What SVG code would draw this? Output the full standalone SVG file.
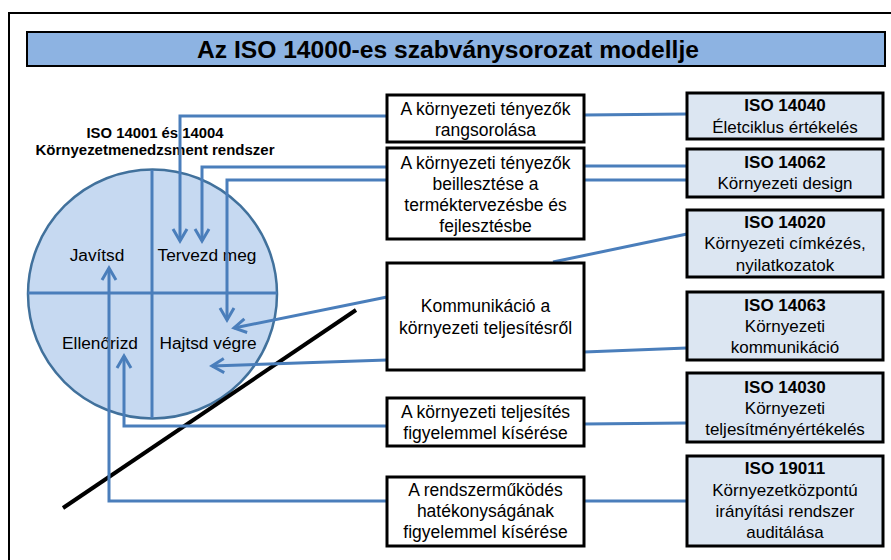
<svg xmlns="http://www.w3.org/2000/svg" width="891" height="560" viewBox="0 0 891 560">
<defs>
<style>
text{font-family:"Liberation Sans",Arial,sans-serif;fill:#000;}
.t{font-size:17.5px;text-anchor:middle;}
.r{font-size:17px;text-anchor:middle;}
.b{font-weight:bold;}
.c{font-size:17.3px;text-anchor:middle;}
.mid{fill:#fff;stroke:#000;stroke-width:3;}
.iso{fill:#dce6f2;stroke:#000;stroke-width:3;}
.con{fill:none;stroke:#4a7ebb;stroke-width:3;}
.arr{fill:none;stroke:#4a7ebb;stroke-width:3;marker-end:url(#ah);}
</style>
<marker id="ah" markerUnits="userSpaceOnUse" markerWidth="20" markerHeight="20" viewBox="-14 -10 16 20" refX="0" refY="0" orient="auto">
<path d="M-12,-7 L0,0 L-12,7" fill="none" stroke="#4a7ebb" stroke-width="3"/>
</marker>
</defs>
<rect x="9" y="13" width="900" height="560" fill="#fff" stroke="#000" stroke-width="2"/>
<g id="title">
<rect x="27" y="32" width="858" height="34" fill="#8db3e2" stroke="#000" stroke-width="2"/>
<text x="448" y="58" font-size="23" font-weight="bold" text-anchor="middle" textLength="502" lengthAdjust="spacingAndGlyphs">Az ISO 14000-es szabványsorozat modellje</text>
</g>
<g id="cycle">
<text x="155" y="138" font-size="14.5" class="b" text-anchor="middle" textLength="137" lengthAdjust="spacingAndGlyphs">ISO 14001 és 14004</text>
<text x="155" y="155" font-size="14.5" class="b" text-anchor="middle" textLength="239" lengthAdjust="spacingAndGlyphs">Környezetmenedzsment rendszer</text>
<circle cx="152.5" cy="294" r="124.5" fill="#c6d9f1" stroke="#41719c" stroke-width="2.5"/>
<line x1="28" y1="293" x2="277" y2="293" stroke="#4a7ebb" stroke-width="3"/>
<line x1="152" y1="170" x2="152" y2="418" stroke="#4a7ebb" stroke-width="3"/>
<text class="c" x="97" y="261">Javítsd</text>
<text class="c" x="207" y="261">Tervezd meg</text>
<text class="c" x="100" y="349">Ellenőrizd</text>
<text class="c" x="208" y="349">Hajtsd végre</text>
</g>
<line x1="63" y1="508" x2="356" y2="310" stroke="#000" stroke-width="4"/>
<g id="connectors">
<path class="arr" d="M387,116 H180 V241"/>
<path class="arr" d="M387,167 H202 V241"/>
<path class="arr" d="M387,180 H227 V320"/>
<path class="arr" d="M387,297 L234,328"/>
<path class="arr" d="M387,360 L212,366"/>
<path class="arr" d="M387,426 H124 V356"/>
<path class="arr" d="M387,501 H109 V268"/>
<path class="con" d="M584,115 L687,114"/>
<path class="con" d="M584,166 H687"/>
<path class="con" d="M584,180 H687"/>
<path class="con" d="M687,234 L553,262"/>
<path class="con" d="M584,352 L687,348"/>
<path class="con" d="M584,424 L687,423"/>
<path class="con" d="M584,501 H687"/>
</g>
<g id="m1"><rect class="mid" x="387" y="95" width="197" height="47"/>
<text class="t" x="485.5" y="115">A környezeti tényezők</text><text class="t" x="485.5" y="136">rangsorolása</text></g>
<g id="m2"><rect class="mid" x="387" y="148" width="197" height="91"/>
<text class="t" x="485.5" y="169">A környezeti tényezők</text><text class="t" x="485.5" y="190">beillesztése a</text><text class="t" x="485.5" y="211">terméktervezésbe és</text><text class="t" x="485.5" y="232">fejlesztésbe</text></g>
<g id="m3"><rect class="mid" x="387" y="263" width="197" height="107"/>
<text class="t" x="485.5" y="312">Kommunikáció a</text><text class="t" x="485.5" y="334">környezeti teljesítésről</text></g>
<g id="m4"><rect class="mid" x="387" y="398" width="197" height="48"/>
<text class="t" x="485.5" y="418">A környezeti teljesítés</text><text class="t" x="485.5" y="439">figyelemmel kísérése</text></g>
<g id="m5"><rect class="mid" x="387" y="477" width="197" height="69"/>
<text class="t" x="485.5" y="496">A rendszerműködés</text><text class="t" x="485.5" y="517">hatékonyságának</text><text class="t" x="485.5" y="538">figyelemmel kísérése</text></g>
<g id="r1"><rect class="iso" x="687" y="93" width="196" height="46"/>
<text class="r b" x="785" y="111">ISO 14040</text><text class="r" x="785" y="133">Életciklus értékelés</text></g>
<g id="r2"><rect class="iso" x="687" y="149" width="196" height="48"/>
<text class="r b" x="785" y="168">ISO 14062</text><text class="r" x="785" y="189">Környezeti design</text></g>
<g id="r3"><rect class="iso" x="687" y="210" width="196" height="67"/>
<text class="r b" x="785" y="228">ISO 14020</text><text class="r" x="785" y="249">Környezeti címkézés,</text><text class="r" x="785" y="271">nyilatkozatok</text></g>
<g id="r4"><rect class="iso" x="687" y="292" width="196" height="68"/>
<text class="r b" x="785" y="311">ISO 14063</text><text class="r" x="785" y="332">Környezeti</text><text class="r" x="785" y="353">kommunikáció</text></g>
<g id="r5"><rect class="iso" x="687" y="373" width="196" height="69"/>
<text class="r b" x="785" y="393">ISO 14030</text><text class="r" x="785" y="414">Környezeti</text><text class="r" x="785" y="435">teljesítményértékelés</text></g>
<g id="r6"><rect class="iso" x="687" y="456" width="196" height="90"/>
<text class="r b" x="785" y="474">ISO 19011</text><text class="r" x="785" y="496">Környezetközpontú</text><text class="r" x="785" y="517">irányítási rendszer</text><text class="r" x="785" y="538">auditálása</text></g>
</svg>
